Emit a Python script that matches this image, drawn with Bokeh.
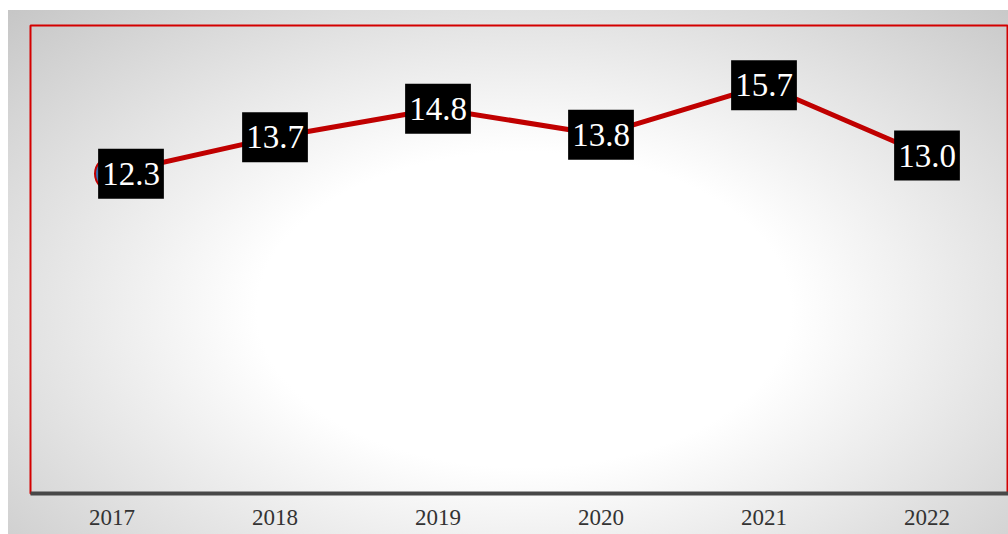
from bokeh.plotting import figure
from bokeh.models import ColumnDataSource, FactorRange
from bokeh.embed import file_html
from bokeh.resources import INLINE
from bokeh.core.properties import value

# ---- data ----
years = ["2017", "2018", "2019", "2020", "2021", "2022"]
ratio = [12.3, 13.7, 14.8, 13.8, 15.7, 13.0]
labels = [f"{v:.1f}" for v in ratio]

# ---- label placement (style) ----
label_dx = [19, 0, 0, 0, 0, 0]

src = ColumnDataSource(dict(year=years, ratio=ratio, label=labels, dx=label_dx))

p = figure(
    width=1008, height=534,
    x_range=FactorRange(factors=years, range_padding=0),
    y_range=(0, 18),
    output_backend="svg", toolbar_location=None,
    min_border_left=30, min_border_right=0, min_border_top=25, min_border_bottom=41,
)
p.border_fill_color = None
p.background_fill_color = None
p.outline_line_color = "#d40000"
p.outline_line_width = 2
p.styles = {
    "background": (
        "linear-gradient(#fff,#fff) left top / 8px 100% no-repeat, "
        "linear-gradient(#fff,#fff) left top / 100% 10px no-repeat, "
        "radial-gradient(ellipse farthest-corner at 52% 58%, #ffffff 0%, #ffffff 36%, #c4c4c4 100%)"
    )
}

p.line("year", "ratio", source=src, line_color="#c00000", line_width=5)
p.scatter("year", "ratio", source=src, size=34, fill_color="#3a6db0",
          line_color="#c00000", line_width=2)
p.text("year", "ratio", text="label", source=src, x_offset="dx",
       text_align="center", text_baseline="middle",
       text_font=value("Liberation Serif"), text_font_size="33px",
       text_color="white", background_fill_color="black",
       padding=dict(left=4, right=4, top=14, bottom=14))

p.yaxis.visible = False
p.xgrid.visible = False
p.ygrid.visible = False
xa = p.xaxis[0]
xa.axis_line_color = "#474747"
xa.axis_line_width = 4
xa.major_tick_line_color = None
xa.minor_tick_line_color = None
xa.major_label_text_font = "Liberation Serif"
xa.major_label_text_font_size = "23px"
xa.major_label_text_color = "#333333"
xa.major_label_standoff = 10

open("out.html", "w").write(file_html(p, INLINE))
